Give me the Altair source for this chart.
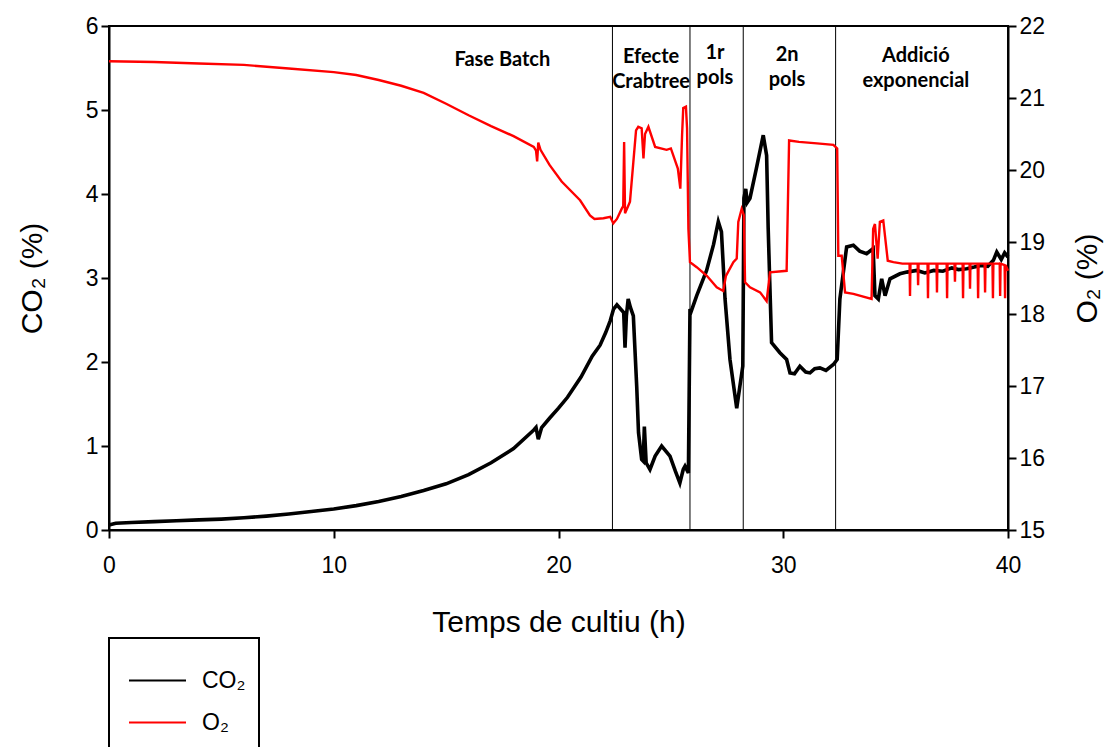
import altair as alt
import pandas as pd

# ---------------- data ----------------
CO2_T = [0, 0.3, 1, 2, 3, 4, 5, 6, 7, 8, 9, 10, 11, 12, 13, 14, 15, 16, 17, 18,
         18.9, 19.0, 19.1, 19.25, 19.6, 20.0, 20.4, 21.0, 21.5, 21.85, 22.1, 22.3,
         22.45, 22.6, 22.9, 22.96, 23.02, 23.1, 23.2, 23.33, 23.48, 23.56, 23.7,
         23.77, 23.82, 23.9, 24.07, 24.3, 24.59, 24.96, 25.2, 25.4, 25.55, 25.63,
         25.78, 25.85, 25.9, 26.15, 26.59, 26.9, 27.11, 27.25, 27.41, 27.63, 27.93,
         28.07, 28.2, 28.25, 28.33, 28.4, 28.52, 28.8, 29.11, 29.26, 29.33, 29.4,
         29.48, 29.85, 30.15, 30.3, 30.5, 30.74, 31.0, 31.19, 31.4, 31.63, 31.9,
         32.23, 32.4, 32.52, 32.82, 33.12, 33.4, 33.71, 34.0, 34.08, 34.23, 34.38,
         34.53, 34.75, 35.19, 35.5, 35.94, 36.3, 36.7, 37.1, 37.5, 37.8, 38.16,
         38.5, 38.8, 39.1, 39.35, 39.5, 39.7, 39.85, 40.0]
CO2_V = [0.06, 0.08, 0.09, 0.10, 0.11, 0.12, 0.13, 0.145, 0.165, 0.19, 0.22, 0.25,
         0.29, 0.34, 0.40, 0.47, 0.55, 0.66, 0.80, 0.97,
         1.19, 1.22, 1.08, 1.22, 1.33, 1.45, 1.58, 1.82, 2.07, 2.2, 2.35, 2.49,
         2.63, 2.68, 2.59, 2.17, 2.55, 2.75, 2.65, 2.55, 1.71, 1.16, 0.84,
         0.82, 1.23, 0.80, 0.72, 0.88, 1.00, 0.88, 0.70, 0.56, 0.72, 0.76,
         0.68, 2.63, 2.60, 2.79, 3.09, 3.40, 3.67, 3.55, 2.75, 2.03, 1.45,
         1.71, 1.95, 3.95, 4.06, 3.90, 3.95, 4.30, 4.70, 4.46, 3.59, 2.95,
         2.23, 2.11, 2.03, 1.87, 1.86, 1.95, 1.88, 1.87, 1.92, 1.93, 1.90,
         1.97, 2.03, 2.75, 3.37, 3.39, 3.32, 3.29, 3.35, 2.79, 2.75, 2.99,
         2.79, 2.99, 3.05, 3.07, 3.09, 3.06, 3.09, 3.08, 3.12, 3.10, 3.11,
         3.13, 3.15, 3.14, 3.21, 3.31, 3.22, 3.30, 3.25]

O2_T = [0, 2, 4, 6, 8, 10, 11, 12, 13, 14, 15, 16, 17, 18, 18.9, 19.0, 19.05, 19.1,
        19.2, 19.6, 20.14, 20.96, 21.4, 21.6, 22.0, 22.3, 22.44, 22.6, 22.81, 22.88,
        22.92, 22.96, 23.1, 23.18, 23.33, 23.45, 23.55, 23.7, 23.78, 23.85, 24.0,
        24.3, 24.81, 25.0, 25.31, 25.42, 25.5, 25.55, 25.67, 25.72, 25.78, 25.85,
        26.15, 26.6, 27.04, 27.33, 27.45, 27.78, 27.93, 28.0, 28.15, 28.25, 28.3,
        28.52, 28.97, 29.26, 29.41, 30.15, 30.26, 30.7, 31.5, 32.23, 32.4, 32.45,
        32.6, 32.75, 33.12, 33.93, 34.0, 34.08, 34.2, 34.3, 34.45, 34.65, 34.9,
        35.3, 35.62, 35.64, 35.66, 35.98, 36.0, 36.02, 36.42, 36.44, 36.46,
        36.82, 36.84, 36.86, 37.27, 37.29, 37.31, 37.62, 37.64, 37.66, 37.98,
        38.0, 38.02, 38.29, 38.31, 38.33, 38.65, 38.67, 38.69, 38.96, 38.98,
        39.0, 39.31, 39.33, 39.35, 39.63, 39.65, 39.67, 39.85, 39.87, 39.89, 40.0]
O2_V = [21.51, 21.50, 21.48, 21.46, 21.41, 21.36, 21.32, 21.25, 21.17, 21.07, 20.92,
        20.76, 20.61, 20.47, 20.32, 20.27, 20.12, 20.38, 20.28, 20.07, 19.84, 19.58,
        19.37, 19.32, 19.33, 19.35, 19.26, 19.32, 19.46, 19.50, 20.39, 19.40, 19.50,
        19.56, 20.11, 20.55, 20.60, 20.58, 20.16, 20.50, 20.60, 20.32, 20.28, 20.30,
        20.02, 19.74, 20.50, 20.86, 20.88, 20.58, 19.18, 18.72, 18.65, 18.53, 18.37,
        18.32, 18.53, 18.72, 18.77, 19.28, 19.46, 19.37, 18.44, 18.37, 18.30, 18.18,
        18.58, 18.60, 20.41, 20.39, 20.37, 20.35, 20.30, 18.81, 18.81, 18.30, 18.28,
        18.21, 19.18, 19.25, 18.77, 19.28, 19.30, 18.74, 18.72, 18.70,
        18.70, 18.25, 18.70, 18.70, 18.40, 18.70, 18.70, 18.22, 18.70,
        18.70, 18.30, 18.70, 18.70, 18.22, 18.70, 18.70, 18.45, 18.70, 18.70,
        18.22, 18.70, 18.70, 18.35, 18.70, 18.70, 18.22, 18.70, 18.70, 18.30,
        18.70, 18.70, 18.22, 18.70, 18.70, 18.25, 18.70, 18.68, 18.22, 18.68, 18.6]

PHASE_LINES = [22.4, 25.85, 28.22, 32.33]

LABEL_TEXT = ["Fase Batch", "Efecte", "Crabtree", "1r", "pols", "2n", "pols",
              "Addició", "exponencial"]
LABEL_T = [17.5, 24.12, 24.12, 26.96, 26.96, 30.17, 30.17, 35.9, 35.9]
LABEL_V = [5.60, 5.63, 5.33, 5.68, 5.38, 5.66, 5.36, 5.64, 5.34]

SERIES = ["CO₂", "O₂"]
COLORS = ["black", "red"]

# ---------------- tables ----------------
co2 = pd.DataFrame({"t": CO2_T, "v": CO2_V, "series": SERIES[0]})
o2 = pd.DataFrame({"t": O2_T, "v": O2_V, "series": SERIES[1]})
phases = pd.DataFrame({"t": PHASE_LINES})
labels = pd.DataFrame({"t": LABEL_T, "v": LABEL_V, "label": LABEL_TEXT})

FONT = "Liberation Sans"

x_enc = alt.X("t:Q", scale=alt.Scale(domain=[0, 40], nice=False),
              axis=alt.Axis(values=[0, 10, 20, 30, 40], title="Temps de cultiu (h)",
                            format="d"))
color_enc = alt.Color("series:N", scale=alt.Scale(domain=SERIES, range=COLORS),
                      legend=alt.Legend(title=None, orient="none", legendX=0, legendY=612))

co2_line = alt.Chart(co2).mark_line(strokeWidth=3.6).encode(
    x=x_enc,
    y=alt.Y("v:Q", scale=alt.Scale(domain=[0, 6], nice=False),
            axis=alt.Axis(values=[0, 1, 2, 3, 4, 5, 6], title="CO₂ (%)", orient="left",
                          format="d")),
    color=color_enc,
)

rules = alt.Chart(phases).mark_rule(color="black", strokeWidth=1).encode(x="t:Q")

texts = alt.Chart(labels).mark_text(font="Lato", fontWeight="bold", fontSize=20,
                                    color="black").encode(
    x="t:Q", y="v:Q", text="label:N")

o2_line = alt.Chart(o2).mark_line(strokeWidth=2.4).encode(
    x=x_enc,
    y=alt.Y("v:Q", scale=alt.Scale(domain=[15, 22], nice=False),
            axis=alt.Axis(values=[15, 16, 17, 18, 19, 20, 21, 22], title="O₂ (%)",
                          orient="right", titleAngle=270, format="d")),
    color=color_enc,
)

left = alt.layer(co2_line, rules, texts)
chart = alt.layer(left, o2_line).resolve_scale(y="independent").properties(
    width=899, height=504,
    autosize=alt.AutoSizeParams(type="none"),
    padding={"left": 109, "top": 26, "right": 112, "bottom": 217},
).configure_view(
    stroke="black", strokeWidth=2
).configure_axis(
    grid=False, domainColor="black", domainWidth=2, tickColor="black", tickWidth=2,
    tickSize=8, labelFont=FONT, labelFontSize=23, labelColor="black",
    titleFont=FONT, titleFontSize=30, titleColor="black", titleFontWeight="normal",
    labelFlush=False, labelOverlap=False,
).configure_axisX(
    labelPadding=16, titlePadding=30,
).configure_axisLeft(
    labelPadding=3, titlePadding=38,
).configure_axisRight(
    labelPadding=3, titlePadding=58,
).configure_legend(
    strokeColor="black", strokeWidth=2, fillColor="white", padding=13, cornerRadius=0,
    labelFont=FONT, labelFontSize=23, labelColor="black", symbolType="stroke",
    symbolSize=3249, symbolStrokeWidth=2, symbolOffset=6, labelOffset=15,
    rowPadding=-2,
)

chart.save("out.html", embed_options={"renderer": "svg", "actions": False})
